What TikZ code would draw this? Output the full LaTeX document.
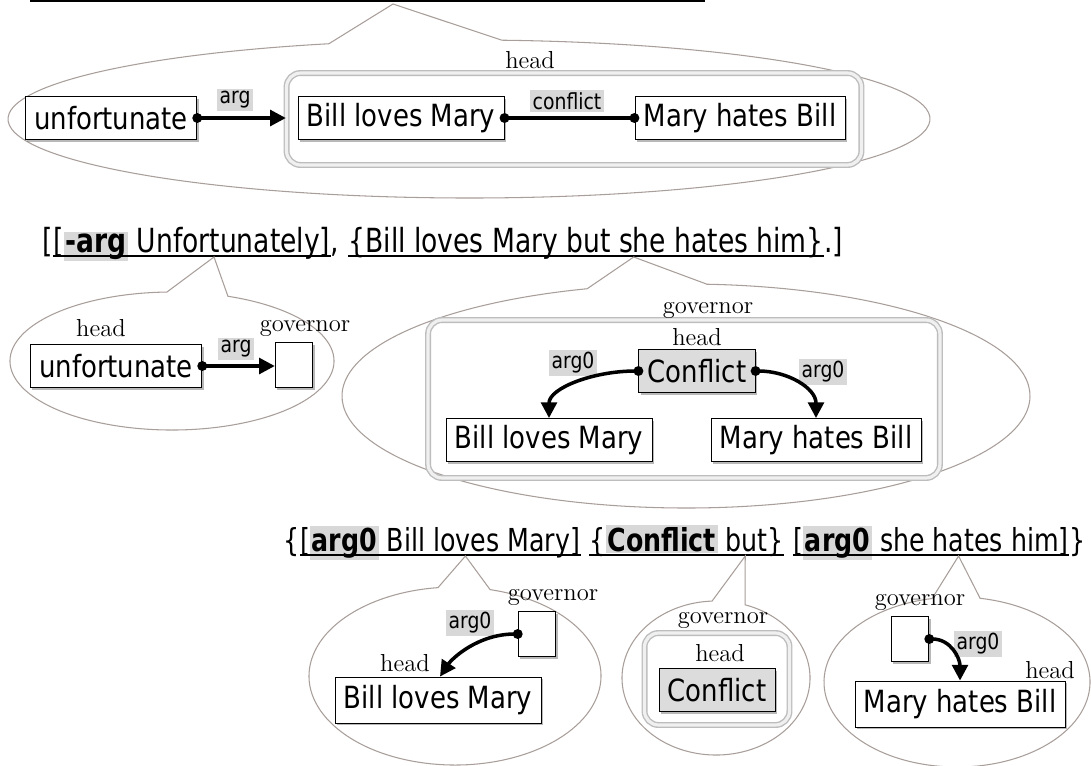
\documentclass[tikz,border=0pt]{standalone}
\usepackage{fontspec}
\usetikzlibrary{arrows.meta, calc, shadows}
\newfontfamily\boxfont[FakeStretch=0.85]{DejaVu Sans}
\newfontfamily\sentfont[FakeStretch=0.8]{DejaVu Sans}
\definecolor{bubblegray}{HTML}{A89E9A}
\definecolor{labelgray}{HTML}{D8D8D8}
\definecolor{headgray}{HTML}{DCDCDC}
\definecolor{framegray}{HTML}{BDBDBD}
\newcommand{\hlword}[1]{{\setlength{\fboxsep}{1pt}\colorbox{labelgray}{\textbf{#1}}}}
\tikzset{
    my-bubble/.style={
        draw=bubblegray, line width=0.6pt, fill=white
    },
    my-box/.style={
        draw, fill=white, line width=0.5pt, inner xsep=5pt, minimum height=0.86cm,
        font=\boxfont\fontsize{17.4}{20}\selectfont,
        drop shadow={shadow xshift=1.2pt, shadow yshift=-1.2pt, fill=black!55}
    },
    my-head-box/.style={
        my-box, fill=headgray
    },
    my-gov-box/.style={
        draw, fill=white, line width=0.5pt, minimum width=0.75cm, minimum height=0.9cm,
        drop shadow={shadow xshift=1.2pt, shadow yshift=-1.2pt, fill=black!55}
    },
    my-group/.style={
        draw=framegray, line width=0.8pt, double=black!6, double distance=1.8pt, rounded corners=8pt
    },
    my-tag/.style={
        fill=labelgray, inner sep=1.5pt, font=\boxfont\fontsize{12.6}{14}\selectfont
    },
    my-role/.style={
        inner sep=0pt, font=\fontsize{14}{16}\selectfont
    },
    my-sent/.style={
        inner sep=0pt, anchor=base west, font=\sentfont\fontsize{18.9}{22}\selectfont
    },
    my-sent-small/.style={
        my-sent, font=\sentfont\fontsize{18}{22}\selectfont
    },
    my-uline/.style={
        line width=0.9pt
    },
    my-arg/.style={
        line width=2pt, shorten <=-2.7pt, {Circle[length=5.5pt]}-{Triangle[length=9pt, width=9pt]}
    },
    my-link/.style={
        line width=2pt, shorten <=-2.7pt, shorten >=-2.7pt, {Circle[length=5.5pt]}-{Circle[length=5.5pt]}
    },
}

\begin{document}
\begin{tikzpicture}[x=0.02cm, y=-0.02cm]
        \useasboundingbox (0,0) rectangle (1091,765);

        % TOP LEVEL ------------------------------------------------------------------------------------

        % CUT OFF SENTENCE AT THE TOP
        \coordinate (TOPL) at (30,1);
        \coordinate (TOPR) at (705,1);
        \draw[line width=1.2pt] (TOPL) -- (TOPR);
        \coordinate (T0) at (393,4);

        % BUBBLE
        \coordinate (E0) at (469,119);
        \draw[my-bubble] ($(E0)+(-85.9:461 and 79)$) arc[start angle=-85.9, end angle=252.3, x radius=461, y radius=79] -- (T0) -- cycle;

        % NODES
        \node[my-group, minimum width=11.5cm, minimum height=1.84cm] (G0) at (574,119) {};
        \node[my-box] (U0) at (111,118) {unfortunate};
        \node[my-box] (B0) at (401,118) {Bill loves Mary};
        \node[my-box] (M0) at (740,118) {Mary hates Bill};
        \node[my-role] (H0) at (530,60)  {head};
        \node[my-tag]  (A0) at (235,100) {arg};
        \node[my-tag]  (C0) at (567,101) {conflict};

        % ARCS
        \draw[my-arg]  (U0.east) -- (U0.east -| G0.west);
        \draw[my-link] (B0.east) -- (M0.west);

        % SECOND LEVEL ---------------------------------------------------------------------------------

        % SENTENCE
        \node[my-sent] (S1)  at (42,252)       {[};
        \node[my-sent] (S1A) at (S1.base east)  {[\hlword{-arg} Unfortunately]};
        \node[my-sent] (S1B) at (S1A.base east) {,\ \null};
        \node[my-sent] (S1C) at (S1B.base east) {\{Bill loves Mary but she hates him\}};
        \node[my-sent] (S1D) at (S1C.base east) {.]};
        \draw[my-uline] ($(S1A.base west)+(0,4)$) -- ($(S1A.base east)+(0,4)$);
        \draw[my-uline] ($(S1C.base west)+(0,4)$) -- ($(S1C.base east)+(0,4)$);
        \coordinate (T1) at ($(S1A.base west)!0.58!(S1A.base east)+(0,5)$);
        \coordinate (T2) at ($(S1C.base west)!0.6!(S1C.base east)+(0,5)$);

        % LEFT BUBBLE
        \coordinate (E1) at (172,361);
        \draw[my-bubble] ($(E1)+(-69.8:162 and 69)$) arc[start angle=-69.8, end angle=268.2, x radius=162, y radius=69] -- (T1) -- cycle;
        \node[my-box]     (U1) at (116,366) {unfortunate};
        \node[my-gov-box] (V1) at (294,365) {};
        \node[my-role]    (H1) at (101,328) {head};
        \node[my-role]    (N1) at (305,328) {governor};
        \node[my-tag]     (A1) at (236,349) {arg};
        \draw[my-arg] (U1.east) -- (U1.east -| V1.west);

        % RIGHT BUBBLE
        \coordinate (E2) at (686,396);
        \draw[my-bubble] ($(E2)+(-86.5:344 and 112)$) arc[start angle=-86.5, end angle=253.3, x radius=344, y radius=112] -- (T2) -- cycle;
        \node[my-group, minimum width=10.24cm, minimum height=3.16cm] (G1) at (684,399) {};
        \node[my-head-box] (C1) at (697,371) {Conflict};
        \node[my-box]      (B1) at (549,440) {Bill loves Mary};
        \node[my-box]      (M1) at (816,440) {Mary hates Bill};
        \node[my-role]     (N2) at (708,310) {governor};
        \node[my-role]     (H2) at (697,337) {head};
        \node[my-tag]      (A2) at (573,363) {arg0};
        \node[my-tag]      (A3) at (823,372) {arg0};
        \draw[my-arg] (C1.west) .. controls +(-45,0) and +(0,-30) .. (B1.north);
        \draw[my-arg] (C1.east) .. controls +(32,0) and +(0,-30) .. (M1.north);

        % THIRD LEVEL ----------------------------------------------------------------------------------

        % SENTENCE
        \node[my-sent-small] (S2)  at (283,551)       {\{};
        \node[my-sent-small] (S2A) at (S2.base east)  {[\hlword{arg0} Bill loves Mary]};
        \node[my-sent-small] (S2B) at (S2A.base east) {\ \null};
        \node[my-sent-small] (S2C) at (S2B.base east) {\{\hlword{Conflict} but\}};
        \node[my-sent-small] (S2D) at (S2C.base east) {\ \null};
        \node[my-sent-small] (S2E) at (S2D.base east) {[\hlword{arg0} she hates him]};
        \node[my-sent-small] (S2F) at (S2E.base east) {\}};
        \draw[my-uline] ($(S2A.base west)+(0,4)$) -- ($(S2A.base east)+(0,4)$);
        \draw[my-uline] ($(S2C.base west)+(0,4)$) -- ($(S2C.base east)+(0,4)$);
        \draw[my-uline] ($(S2E.base west)+(0,4)$) -- ($(S2E.base east)+(0,4)$);
        \coordinate (T3) at ($(S2A.base west)!0.59!(S2A.base east)+(0,5)$);
        \coordinate (T4) at ($(S2C.base west)!0.8!(S2C.base east)+(0,5)$);
        \coordinate (T5) at ($(S2E.base west)!0.6!(S2E.base east)+(0,5)$);

        % LEFT BUBBLE
        \coordinate (E3) at (455,676);
        \draw[my-bubble] ($(E3)+(-76.1:146 and 89)$) arc[start angle=-76.1, end angle=263.3, x radius=146, y radius=89] -- (T3) -- cycle;
        \node[my-box, minimum height=0.92cm] (B2) at (438,700) {Bill loves Mary};
        \node[my-gov-box] (V2) at (537,634) {};
        \node[my-role]    (N3) at (553,597) {governor};
        \node[my-role]    (H3) at (405,663) {head};
        \node[my-tag]     (A4) at (470,623) {arg0};
        \draw[my-arg] (V2.west) .. controls +(-40,0) and +(12,-18) .. ($(B2.north)+(2,0)$);

        % MIDDLE BUBBLE
        \coordinate (E4) at (716,678);
        \draw[my-bubble] ($(E4)+(-72:94 and 77)$) arc[start angle=-72, end angle=267.6, x radius=94, y radius=77] -- (T4) -- cycle;
        \node[my-group, minimum width=2.9cm, minimum height=1.84cm] (G2) at (717,679) {};
        \node[my-head-box] (C2) at (717,690) {Conflict};
        \node[my-role]     (N4) at (723,620) {governor};
        \node[my-role]     (H4) at (720,653) {head};

        % RIGHT BUBBLE
        \coordinate (E5) at (957,682);
        \draw[my-bubble] ($(E5)+(-80:133 and 85)$) arc[start angle=-80, end angle=259.2, x radius=133, y radius=85] -- (T5) -- cycle;
        \node[my-box, minimum height=0.92cm] (M2) at (960,704) {Mary hates Bill};
        \node[my-gov-box] (V3) at (910,639) {};
        \node[my-role]    (N5) at (920,602) {governor};
        \node[my-role]    (H5) at (1050,670) {head};
        \node[my-tag]     (A5) at (978,644) {arg0};
        \draw[my-arg] (V3.east) .. controls +(22,0) and +(0,-22) .. (M2.north);

\end{tikzpicture}
\end{document}
